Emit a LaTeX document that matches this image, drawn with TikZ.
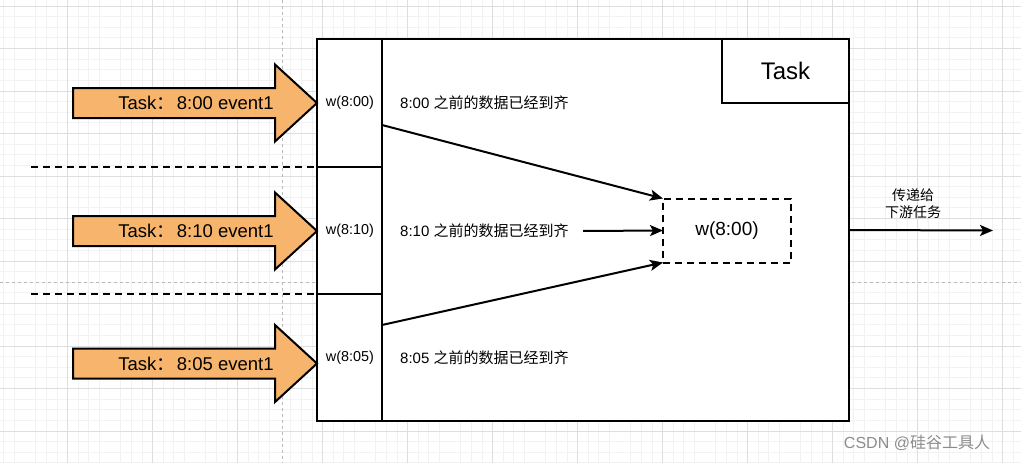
\documentclass[tikz,border=0pt]{standalone}
\usepackage{fontspec}
\setmainfont{Liberation Sans}
\newfontfamily\cjk{Noto Sans CJK SC}
\usetikzlibrary{arrows.meta}
\definecolor{orangefill}{RGB}{247,180,108}
\definecolor{gridminor}{RGB}{242,242,242}
\definecolor{gridmajor}{RGB}{222,222,222}
\definecolor{guide}{RGB}{185,185,185}
\newcommand\taskarrow[3]{%
  \draw[bigarrow] (73,#1-15) -- (275,#1-15) -- (275,#1-38.5) -- (317,#1) -- (275,#1+38.5) -- (275,#1+15) -- (73,#1+15) -- cycle;
  \node[arrowtext] (#2) at (196,#1) {#3};}
\begin{document}
\begin{tikzpicture}[x=1pt,y=-1pt,
  bigarrow/.style={draw=black,line width=2pt,fill=orangefill,line join=miter},
  arrowtext/.style={inner sep=0pt,font=\fontsize{18.5}{22}\selectfont},
  box/.style={draw=black,line width=2pt,fill=white},
  celltext/.style={inner sep=0pt,font=\fontsize{14.4}{17}\selectfont},
  note/.style={inner sep=0pt,anchor=west,font=\fontsize{15}{18}\selectfont},
  conn/.style={line width=2pt,-{Stealth[length=13pt,width=11pt,inset=3pt]}},
  blackdash/.style={line width=2pt,dash pattern=on 7pt off 5pt},
  guideline/.style={draw=guide,line width=1pt,dash pattern=on 3pt off 3pt}]
\useasboundingbox (0,0) rectangle (1021,463);
\fill[white] (0,0) rectangle (1021,463);
% grid
\foreach \i in {0,...,95}{%
  \pgfmathtruncatemacro\m{mod(\i,8)}%
  \pgfmathsetmacro\xx{3.95+10.625*\i}%
  \ifnum\m=6 \else\ifnum\m=2 \else
    \draw[gridminor,line width=1pt] (\xx,0) -- (\xx,463);
  \fi\fi}
\foreach \j in {0,...,43}{%
  \pgfmathtruncatemacro\m{mod(\j,4)}%
  \pgfmathsetmacro\yy{6+10.625*\j}%
  \ifnum\m=0 \else
    \draw[gridminor,line width=1pt] (0,\yy) -- (1021,\yy);
  \fi}
\foreach \i in {0,...,11}{%
  \pgfmathsetmacro\xx{67.7+85*\i}%
  \draw[gridmajor,line width=1pt] (\xx,0) -- (\xx,463);}
\foreach \j in {0,...,10}{%
  \pgfmathsetmacro\yy{6+42.5*\j}%
  \draw[gridmajor,line width=1pt] (0,\yy) -- (1021,\yy);}
% guides
\draw[guideline] (282,0) -- (282,463);
\draw[guideline] (0,282) -- (1021,282);
% main task box
\node[box,minimum width=532pt,minimum height=382pt,anchor=north west,inner sep=0pt,outer sep=0pt] (main) at (317,39) {};
\node[box,minimum width=127pt,minimum height=64pt,anchor=north east,inner sep=0pt,outer sep=0pt,font=\fontsize{24}{28}\selectfont] (tasklabel) at (849,39) {Task};
% left column
\draw[line width=2pt] (382,39) -- (382,421);
\draw[line width=2pt] (317,167) -- (382,167);
\draw[line width=2pt] (317,294) -- (382,294);
\node[celltext] (w1) at (350,103) {w(8:00)};
\node[celltext] (w2) at (350,231) {w(8:10)};
\node[celltext] (w3) at (350,358) {w(8:05)};
% black dashed separators
\draw[blackdash] (31,167) -- (317,167);
\draw[blackdash] (31,294) -- (317,294);
% orange arrows
\taskarrow{103}{a1}{Task{\cjk ：}\hspace{2pt}8:00 event1}
\taskarrow{231}{a2}{Task{\cjk ：}\hspace{2pt}8:10 event1}
\taskarrow{363.5}{a3}{Task{\cjk ：}\hspace{2pt}8:05 event1}
% notes
\node[note] (n1) at (400,103) {8:00 {\cjk 之前的数据已经到齐}};
\node[note] (n2) at (400,231) {8:10 {\cjk 之前的数据已经到齐}};
\node[note] (n3) at (400,358) {8:05 {\cjk 之前的数据已经到齐}};
% aggregated watermark box
\node[draw=black,line width=2pt,dash pattern=on 7pt off 5pt,minimum width=128pt,minimum height=64pt,inner sep=0pt,outer sep=0pt,font=\fontsize{19}{22}\selectfont] (agg) at (727,230.5) {w(8:00)};
\coordinate (s1) at (382,125);
\coordinate (s2) at (583,231);
\coordinate (s3) at (382,325);
\draw[conn] (s1) -- (agg.north west);
\draw[conn] (s2) -- (agg.west);
\draw[conn] (s3) -- (agg.south west);
% output
\coordinate (out) at (993,230.5);
\draw[conn] (main.east) -- (out);
\node[inner sep=0pt,align=center,font=\fontsize{14}{17}\cjk] (outlabel) at (913,204) {传递给\\下游任务};
% watermark
\node[inner sep=0pt,text=black!45,font=\fontsize{16}{18}\selectfont] (wm) at (917,443) {CSDN @{\cjk 硅谷工具人}};
\end{tikzpicture}
\end{document}
